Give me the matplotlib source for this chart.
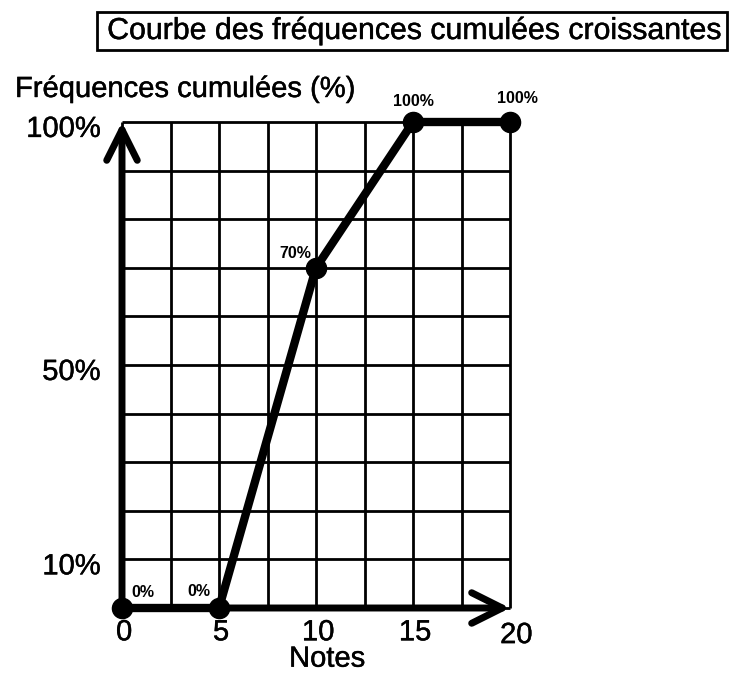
import numpy as np
import matplotlib
matplotlib.use('Agg')
import matplotlib.pyplot as plt
import matplotlib.patheffects as pe
from matplotlib.patches import Rectangle

plt.rcParams['font.family'] = ['Liberation Sans', 'DejaVu Sans']

# cumulative frequency data
notes = [0, 5, 10, 15, 20]
freq_cum = [0, 0, 70, 100, 100]
point_labels = ['0%', '0%', '70%', '100%', '100%']

x_ticks = [0, 5, 10, 15, 20]
y_ticks = [10, 50, 100]
y_tick_labels = ['10%', '50%', '100%']

W, H = 730, 683
fig = plt.figure(figsize=(W / 100, H / 100), dpi=100)
ax = fig.add_axes([122 / W, 1 - 608 / H, 388 / W, 486 / H])
ax.set_xlim(0, 20)
ax.set_ylim(0, 100)
ax.axis('off')

# slightly heavier strokes on the text
heavy = [pe.withStroke(linewidth=0.3, foreground='black')]

# grid: every 2.5 notes and every 10%
ax.vlines(np.arange(0, 20.01, 2.5), 0, 100, color='black', lw=2, zorder=1,
          clip_on=False)
ax.hlines(np.arange(0, 100.01, 10), 0, 20, color='black', lw=2, zorder=1,
          clip_on=False)

# axes with arrow heads
arrow = dict(arrowstyle='->', lw=5, color='black', mutation_scale=55,
             shrinkA=0, shrinkB=0)
ax.annotate('', xy=(0, 100), xytext=(0, 0), arrowprops=arrow,
            annotation_clip=False, zorder=3)
ax.annotate('', xy=(20, 0), xytext=(0, 0), arrowprops=arrow,
            annotation_clip=False, zorder=3)

# the curve
ax.plot(notes, freq_cum, color='black', lw=6, marker='o', markersize=14.5,
        solid_capstyle='round', clip_on=False, zorder=4)

offsets = [(15, 11.5), (-14.5, 12), (-15, 10), (0, 15), (5, 17)]
for x, y, lab, off in zip(notes, freq_cum, point_labels, offsets):
    ax.annotate(lab, (x, y), xytext=off, textcoords='offset points',
                ha='center', va='center', fontsize=11.5, fontweight='bold',
                annotation_clip=False)

# tick labels
for x in x_ticks:
    dx, dy = (4.5, -19.5) if x == 20 else (1.5, -17.5)
    ax.annotate(str(x), (x, 0), xytext=(dx, dy), textcoords='offset points',
                ha='center', va='center', fontsize=21, annotation_clip=False,
                path_effects=heavy)
for y, lab in zip(y_ticks, y_tick_labels):
    ax.annotate(lab, (0, y), xytext=(-15.5, -5), textcoords='offset points',
                ha='right', va='center', fontsize=21, annotation_clip=False,
                path_effects=heavy)

ax.annotate('Notes', (10, 0), xytext=(8, -36.5), textcoords='offset points',
            ha='center', va='center', fontsize=21, annotation_clip=False,
            path_effects=heavy)
fig.text(15 / W, 1 - 89 / H, 'Fréquences cumulées (%)', ha='left',
         va='center', fontsize=21, path_effects=heavy)

# boxed title
fig.patches.append(Rectangle((97 / W, 1 - 50 / H), 630 / W, 38 / H,
                             transform=fig.transFigure, fill=False,
                             edgecolor='black', lw=2))
fig.text(414 / W, 1 - 31 / H, 'Courbe des fréquences cumulées croissantes',
         ha='center', va='center', fontsize=21.8, path_effects=heavy)

fig.savefig('out.png', dpi=100)
